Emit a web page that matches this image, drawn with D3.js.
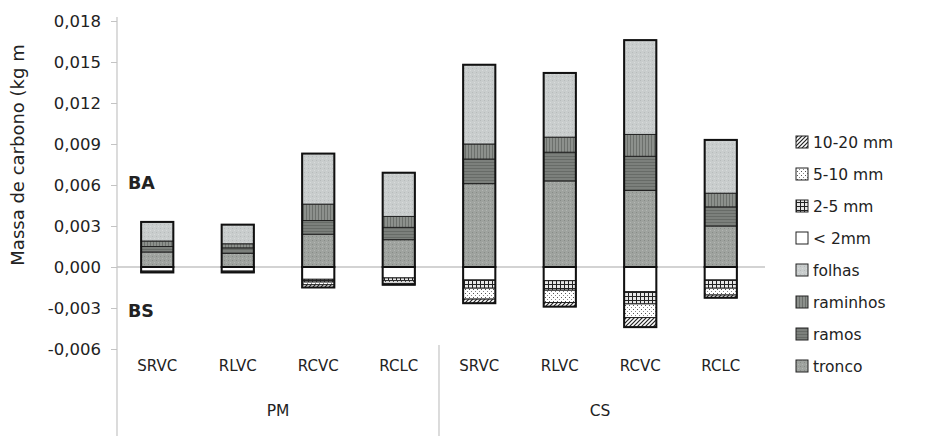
<!DOCTYPE html>
<html><head><meta charset="utf-8">
<script src="https://cdn.jsdelivr.net/npm/d3@7/dist/d3.min.js"></script>
<style>
html,body{margin:0;padding:0;background:#fff;}
svg{display:block;}
text{font-family:"DejaVu Sans",Verdana,sans-serif;fill:#222;}
</style></head>
<body>
<svg id="chart" width="926" height="436"></svg>
<script>
// ---- data ----
const categories = ["SRVC","RLVC","RCVC","RCLC","SRVC","RLVC","RCVC","RCLC"];
const groups = ["PM","CS"];
const tronco   = [0.0011,0.0010,0.0024,0.0020,0.0061,0.0063,0.0056,0.0030];
const ramos    = [0.0004,0.0004,0.0010,0.0009,0.0018,0.0021,0.0025,0.0014];
const raminhos = [0.0004,0.0003,0.0012,0.0008,0.0011,0.0011,0.0016,0.0010];
const folhas   = [0.0014,0.0014,0.0037,0.0032,0.0058,0.0047,0.0069,0.0039];
const lt2mm    = [-0.0003,-0.0003,-0.0009,-0.0008,-0.00095,-0.0010,-0.0018,-0.00095];
const mm2_5    = [-0.00004,-0.00004,-0.0002,-0.0002,-0.0006,-0.0007,-0.0009,-0.0006];
const mm5_10   = [-0.00003,-0.00003,-0.0002,-0.0002,-0.0008,-0.0009,-0.0010,-0.0005];
const mm10_20  = [-0.00003,-0.00003,-0.0002,-0.0001,-0.0003,-0.0003,-0.0007,-0.0002];
const yTicks = [-0.006,-0.003,0,0.003,0.006,0.009,0.012,0.015,0.018];
const legendLabels = ["10-20 mm","5-10 mm","2-5 mm","< 2mm","folhas","raminhos","ramos","tronco"];

// ---- build ----
const keys = ["tronco","ramos","raminhos","folhas","lt2mm","mm2_5","mm5_10","mm10_20"];
const series = {tronco,ramos,raminhos,folhas,lt2mm,mm2_5,mm5_10,mm10_20};
const rows = categories.map((c,i)=>{const r={i}; keys.forEach(k=>r[k]=series[k][i]); return r;});

const svg = d3.select("#chart");
const defs = svg.append("defs");

function pat(id, bg, draw, w=4, h=4){
  const p = defs.append("pattern").attr("id",id).attr("patternUnits","userSpaceOnUse").attr("width",w).attr("height",h);
  p.append("rect").attr("width",w).attr("height",h).attr("fill",bg);
  draw(p);
}
pat("p-folhas","#c9cdcd",p=>{p.append("rect").attr("x",0).attr("y",0).attr("width",1).attr("height",1).attr("fill","#b7bbbb");p.append("rect").attr("x",2).attr("y",2).attr("width",1).attr("height",1).attr("fill","#d8dbdb");});
pat("p-raminhos","#8c908c",p=>{p.append("rect").attr("x",0).attr("y",0).attr("width",1).attr("height",3).attr("fill","#6c706c");},3,3);
pat("p-ramos","#7c807c",p=>{p.append("rect").attr("x",0).attr("y",0).attr("width",3).attr("height",1).attr("fill","#676b67");},3,3);
pat("p-tronco","#9fa39f",p=>{p.append("rect").attr("x",0).attr("y",0).attr("width",1).attr("height",1).attr("fill","#878b87");p.append("rect").attr("x",2).attr("y",2).attr("width",1).attr("height",1).attr("fill","#b3b6b3");});
pat("p-lt2mm","#ffffff",p=>{});
pat("p-mm2_5","#e6e6e6",p=>{p.append("rect").attr("x",0).attr("y",0).attr("width",4).attr("height",1).attr("fill","#222");p.append("rect").attr("x",0).attr("y",0).attr("width",1).attr("height",4).attr("fill","#222");});
pat("p-mm5_10","#ffffff",p=>{p.append("rect").attr("x",1).attr("y",1).attr("width",1).attr("height",1).attr("fill","#555");p.append("rect").attr("x",3).attr("y",3).attr("width",1).attr("height",1).attr("fill","#888");});
pat("p-mm10_20","#ffffff",p=>{p.append("path").attr("d","M0,4L4,0M-1,1L1,-1M3,5L5,3").attr("stroke","#222").attr("stroke-width",1.2);});

const pLeft=117, pRight=761, pTop=21, pBottom=349;
const x = d3.scaleBand().domain(d3.range(categories.length)).range([pLeft,pRight]).paddingInner(0.6).paddingOuter(0.3);
const y = d3.scaleLinear().domain([-0.006,0.018]).range([pBottom,pTop]);

svg.append("line").attr("x1",pLeft).attr("x2",765).attr("y1",y(0)).attr("y2",y(0)).attr("stroke","#c4c4c4").attr("stroke-width",1.5);

const loc = d3.formatLocale({decimal:",",thousands:".",grouping:[3],currency:["",""],minus:"-"});
const fmt = loc.format(".3f");
const yAxis = svg.append("g").attr("transform",`translate(${pLeft},0)`)
  .call(d3.axisLeft(y).tickValues(yTicks).tickFormat(fmt).tickSize(6).tickPadding(10));
yAxis.select(".domain").remove();
yAxis.selectAll(".tick line").attr("stroke","#c4c4c4");
yAxis.selectAll(".tick text").attr("font-size",16.5).attr("fill","#222").attr("font-family","DejaVu Sans");
svg.append("line").attr("x1",pLeft).attr("x2",pLeft).attr("y1",17).attr("y2",436).attr("stroke","#c4c4c4").attr("stroke-width",1.2);

svg.append("line").attr("x1",x(4)-x.step()*0.3).attr("x2",x(4)-x.step()*0.3).attr("y1",pBottom-4).attr("y2",436).attr("stroke","#c4c4c4").attr("stroke-width",1.2);

const stack = d3.stack().keys(keys).offset(d3.stackOffsetDiverging);
const stacked = stack(rows);
const bars = svg.append("g");
stacked.forEach(s=>{
  bars.append("g").selectAll("rect").data(s).join("rect")
    .attr("x",d=>x(d.data.i)).attr("width",x.bandwidth())
    .attr("y",d=>y(Math.max(d[0],d[1]))).attr("height",d=>Math.abs(y(d[0])-y(d[1])))
    .attr("fill",`url(#p-${s.key})`).attr("stroke","#222").attr("stroke-width",1);
});
const posTot = rows.map(r=>r.tronco+r.ramos+r.raminhos+r.folhas);
const negTot = rows.map(r=>r.lt2mm+r.mm2_5+r.mm5_10+r.mm10_20);
bars.append("g").selectAll("rect").data(rows).join("rect")
  .attr("x",d=>x(d.i)).attr("width",x.bandwidth())
  .attr("y",d=>y(posTot[d.i])).attr("height",d=>y(0)-y(posTot[d.i]))
  .attr("fill","none").attr("stroke","#111").attr("stroke-width",2);
bars.append("g").selectAll("rect").data(rows).join("rect")
  .attr("x",d=>x(d.i)).attr("width",x.bandwidth())
  .attr("y",y(0)).attr("height",d=>y(negTot[d.i])-y(0))
  .attr("fill","none").attr("stroke","#111").attr("stroke-width",2);

svg.append("g").selectAll("text").data(categories).join("text")
  .attr("x",(d,i)=>x(i)+x.bandwidth()/2).attr("y",371).attr("text-anchor","middle")
  .attr("font-size",15).text(d=>d);
svg.append("g").selectAll("text").data(groups).join("text")
  .attr("x",(d,i)=>(x(i*4)+x(i*4+3)+x.bandwidth())/2).attr("y",416).attr("text-anchor","middle")
  .attr("font-size",15.5).text(d=>d);

svg.append("text").attr("transform","translate(24,155) rotate(-90)").attr("text-anchor","middle")
  .attr("font-size",18).text("Massa de carbono (kg m");

svg.append("text").attr("x",128).attr("y",189).attr("font-family","Liberation Sans, Arial").attr("font-weight","bold").attr("font-size",17.5).attr("fill","#111").text("BA");
svg.append("text").attr("x",128).attr("y",317).attr("font-family","Liberation Sans, Arial").attr("font-weight","bold").attr("font-size",17.5).attr("fill","#111").text("BS");

const legKeys = ["mm10_20","mm5_10","mm2_5","lt2mm","folhas","raminhos","ramos","tronco"];
const leg = svg.append("g").selectAll("g").data(legKeys).join("g")
  .attr("transform",(d,i)=>`translate(796,${142+i*32})`);
leg.append("rect").attr("x",0).attr("y",-6).attr("width",12).attr("height",12)
  .attr("fill",d=>`url(#p-${d})`).attr("stroke","#222").attr("stroke-width",1);
leg.append("text").attr("x",17).attr("y",6).attr("font-size",15.5).text((d,i)=>legendLabels[i]);
</script>
</body></html>
